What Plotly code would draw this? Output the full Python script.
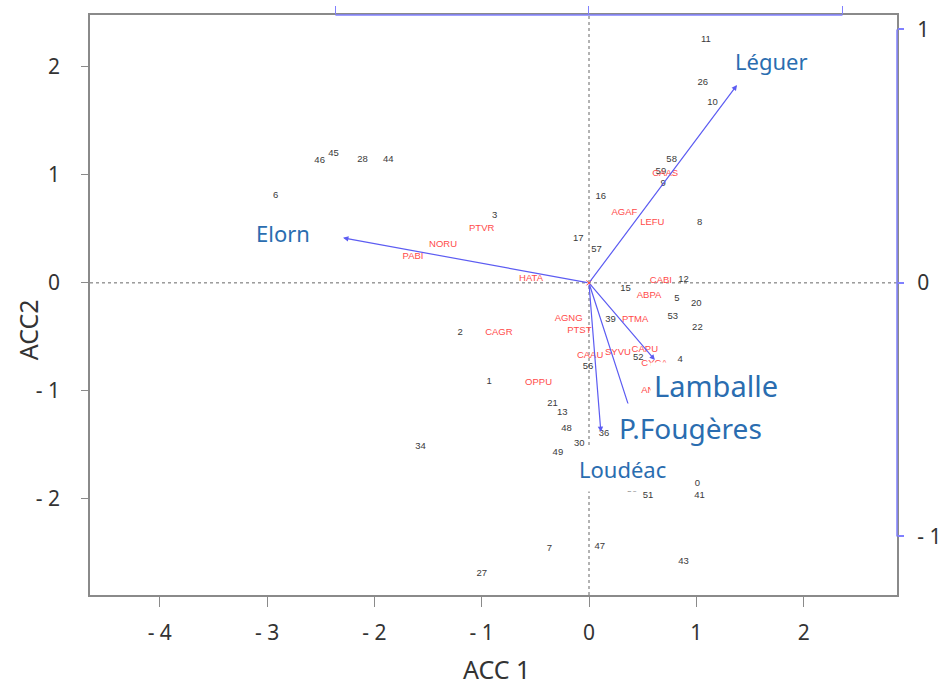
import plotly.graph_objects as go

# Site scores (ACC 1, ACC 2)
site_labels = ["11", "26", "10", "45", "46", "28", "44", "6", "3", "58", "59", "9",
               "16", "8", "17", "57", "12", "15", "5", "20", "39", "53", "22", "2",
               "52", "4", "56", "1", "21", "13", "48", "36", "30", "34", "49", "0",
               "41", "51", "50", "7", "47", "27", "43"]
site_x = [1.09, 1.06, 1.15, -2.38, -2.51, -2.11, -1.87, -2.92, -0.88, 0.77, 0.67, 0.69,
          0.11, 1.03, -0.10, 0.07, 0.88, 0.34, 0.82, 1.00, 0.20, 0.78, 1.01, -1.20,
          0.46, 0.85, -0.01, -0.93, -0.34, -0.25, -0.21, 0.14, -0.09, -1.57, -0.29, 1.01,
          1.03, 0.55, 0.40, -0.37, 0.10, -1.00, 0.88]
site_y = [2.25, 1.85, 1.67, 1.20, 1.13, 1.14, 1.14, 0.81, 0.62, 1.14, 1.03, 0.92,
          0.80, 0.56, 0.41, 0.31, 0.03, -0.05, -0.15, -0.19, -0.34, -0.31, -0.41, -0.46,
          -0.69, -0.71, -0.78, -0.91, -1.12, -1.20, -1.35, -1.40, -1.49, -1.52, -1.57, -1.86,
          -1.97, -1.97, -1.91, -2.46, -2.44, -2.69, -2.58]

# Species scores
species_labels = ["CAAS", "AGAF", "LEFU", "PTVR", "NORU", "PABI", "HATA", "CABI", "ABPA",
                  "AGNG", "PTMA", "PTST", "CAGR", "CAAU", "SYVU", "CAPU", "OPPU", "CYCA", "ANAN"]
species_x = [0.71, 0.33, 0.59, -1.00, -1.36, -1.64, -0.54, 0.67, 0.56,
             -0.19, 0.43, -0.09, -0.84, 0.01, 0.27, 0.52, -0.47, 0.61, 0.61]
species_y = [1.01, 0.65, 0.56, 0.50, 0.35, 0.24, 0.04, 0.02, -0.12,
             -0.33, -0.34, -0.44, -0.46, -0.67, -0.65, -0.62, -0.92, -0.75, -1.00]

# Constraining variables (biplot arrows, right/top scale)
env_names = ["Léguer", "Elorn", "Lamballe", "P.Fougères", "Loudéac"]
env_x = [0.584, -0.970, 0.260, 0.162, 0.047]
env_y = [0.781, 0.178, -0.304, -0.501, -0.588]
# Where each variable name is written (ACC 1 / ACC 2 units) and its size
env_label_x = [1.70, -2.85, 1.18, 0.95, 0.31]
env_label_y = [2.05, 0.46, -0.95, -1.34, -1.72]
env_label_size = [22, 22, 29, 28, 22]
env_label_pad = [7, 7, 3, 5, 7]

x_ticks = [-4, -3, -2, -1, 0, 1, 2]
x_ticktext = ["- 4", "- 3", "- 2", "- 1", "0", "1", "2"]
y_ticks = [-2, -1, 0, 1, 2]
y_ticktext = ["- 2", "- 1", "0", "1", "2"]
bi_ticks = [-1, 0, 1]
bi_ticktext = ["- 1", "0", "1"]

X_RANGE = [-4.65, 2.87]
Y_RANGE = [-2.89, 2.48]
X2_RANGE = [-1.968, 1.215]
Y2_RANGE = [-1.231, 1.057]

FRAME = "#8a8a8a"
ARROW = "#5c5cf2"
AXIS_BLUE = "#8080ff"
LABEL_BLUE = "#2a6db0"
SPECIES_RED = "#ff4a4a"
MAIN_FONT = "Noto Sans, Open Sans, sans-serif"
TICK_FONT = dict(family=MAIN_FONT, size=21, color="#333333")

fig = go.Figure()

fig.add_trace(go.Scatter(
    x=site_x, y=site_y, text=site_labels, mode="text",
    textfont=dict(family="Arial, Liberation Sans, sans-serif", size=9.5, color="#3a3a3a"),
    hoverinfo="text", showlegend=False,
))
fig.add_trace(go.Scatter(
    x=species_x, y=species_y, text=species_labels, mode="text",
    textfont=dict(family="Arial, Liberation Sans, sans-serif", size=9.5, color=SPECIES_RED),
    hoverinfo="text", showlegend=False,
))
# origin marker
fig.add_trace(go.Scatter(
    x=[0], y=[0], mode="markers",
    marker=dict(symbol="x-thin", size=5, line=dict(color=SPECIES_RED, width=1)),
    hoverinfo="skip", showlegend=False,
))
# invisible trace to activate the biplot axes
fig.add_trace(go.Scatter(
    x=env_x, y=env_y, xaxis="x2", yaxis="y2", mode="markers",
    marker=dict(size=1, opacity=0), hoverinfo="skip", showlegend=False,
))

annotations = []
for nx, ny in zip(env_x, env_y):
    annotations.append(dict(
        x=nx, y=ny, xref="x2", yref="y2", ax=0, ay=0, axref="x2", ayref="y2",
        text="", showarrow=True, arrowhead=2, arrowsize=0.9, arrowwidth=1.2,
        arrowcolor=ARROW, standoff=0,
    ))
for name, lx, ly, fs, pad in zip(env_names, env_label_x, env_label_y,
                                  env_label_size, env_label_pad):
    annotations.append(dict(
        x=lx, y=ly, xref="x", yref="y", text=name, showarrow=False,
        font=dict(family=MAIN_FONT, size=fs, color=LABEL_BLUE),
        bgcolor="white", borderpad=pad,
    ))
annotations.append(dict(
    x=0.504, y=-0.127, xref="paper", yref="paper", text="ACC 1", showarrow=False,
    xanchor="center", yanchor="middle",
    font=dict(family=MAIN_FONT, size=25, color="#333333"),
))
annotations.append(dict(
    x=-0.077, y=0.458, xref="paper", yref="paper", text="ACC2", showarrow=False,
    xanchor="center", yanchor="middle", textangle=-90,
    font=dict(family=MAIN_FONT, size=25, color="#333333"),
))

shapes = [
    # dotted zero lines
    dict(type="line", xref="x", yref="paper", x0=0, x1=0, y0=0, y1=1,
         line=dict(color="#666666", width=1, dash="dot"), layer="below"),
    dict(type="line", xref="paper", yref="y", x0=0, x1=1, y0=0, y1=0,
         line=dict(color="#666666", width=1, dash="dot"), layer="below"),
    # biplot scale axes (top and right)
    dict(type="line", xref="x2", yref="paper", x0=-1, x1=1, y0=1, y1=1,
         line=dict(color=AXIS_BLUE, width=1.5)),
    dict(type="line", xref="paper", yref="y2", x0=1, x1=1, y0=-1, y1=1,
         line=dict(color=AXIS_BLUE, width=1.5)),
]

fig.update_layout(
    width=943, height=688,
    margin=dict(l=90, r=46, t=15, b=93),
    paper_bgcolor="white", plot_bgcolor="white",
    xaxis=dict(range=X_RANGE, tickvals=x_ticks, ticktext=x_ticktext, automargin=False,
               showgrid=False, zeroline=False, showline=True, linecolor=FRAME,
               linewidth=1.5, mirror=True, ticks="outside", ticklen=10,
               tickcolor=FRAME, tickfont=TICK_FONT, ticklabelstandoff=8),
    yaxis=dict(range=Y_RANGE, tickvals=y_ticks, ticktext=y_ticktext, automargin=False,
               showgrid=False, zeroline=False, showline=True, linecolor=FRAME,
               linewidth=1.5, mirror=True, ticks="outside", ticklen=7,
               tickcolor=FRAME, tickfont=TICK_FONT, ticklabelstandoff=17),
    xaxis2=dict(range=X2_RANGE, overlaying="x", side="top", tickvals=bi_ticks,
                automargin=False, showticklabels=False, showgrid=False, zeroline=False,
                showline=False, ticks="outside", ticklen=8, tickcolor=AXIS_BLUE,
                tickwidth=1.2),
    yaxis2=dict(range=Y2_RANGE, overlaying="y", side="right", tickvals=bi_ticks,
                ticktext=bi_ticktext, automargin=False, showgrid=False, zeroline=False,
                showline=False, ticks="outside", ticklen=6, tickcolor=AXIS_BLUE,
                tickwidth=1.5, tickfont=TICK_FONT, ticklabelstandoff=9),
    annotations=annotations,
    shapes=shapes,
)

fig.write_html("out.html")
